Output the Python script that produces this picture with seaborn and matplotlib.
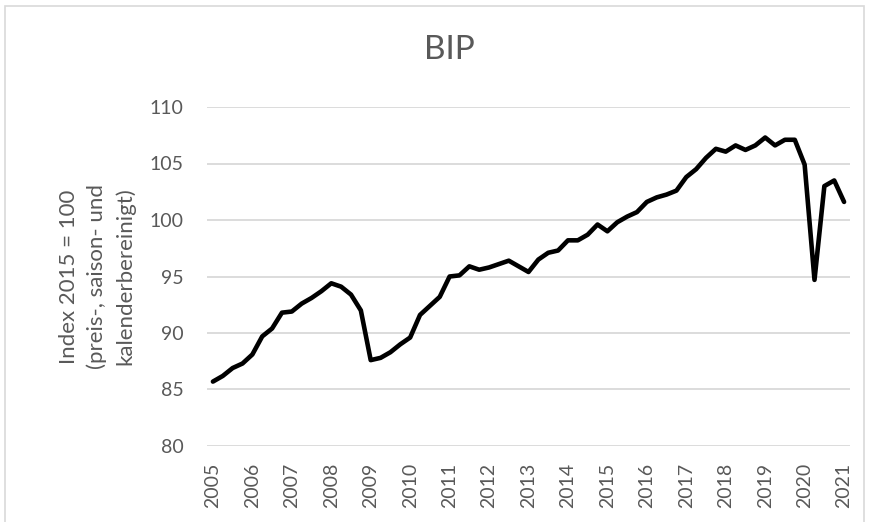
import matplotlib
matplotlib.use("Agg")
import matplotlib.pyplot as plt
import seaborn as sns
import pandas as pd
from matplotlib.patches import Rectangle

# ---- data (quarterly, 2005 Q1 .. 2021 Q1) ----
years = list(range(2005, 2022))
gdp_index = [
    85.7, 86.2, 86.9, 87.3,     # 2005
    88.1, 89.7, 90.4, 91.8,     # 2006
    91.9, 92.6, 93.1, 93.7,     # 2007
    94.4, 94.1, 93.4, 92.0,     # 2008
    87.6, 87.8, 88.3, 89.0,     # 2009
    89.6, 91.6, 92.4, 93.2,     # 2010
    95.0, 95.1, 95.9, 95.6,     # 2011
    95.8, 96.1, 96.4, 95.9,     # 2012
    95.4, 96.5, 97.1, 97.3,     # 2013
    98.2, 98.2, 98.7, 99.6,     # 2014
    99.0, 99.8, 100.3, 100.7,   # 2015
    101.6, 102.0, 102.25, 102.6,  # 2016
    103.8, 104.5, 105.5, 106.3,   # 2017
    106.05, 106.6, 106.2, 106.6,  # 2018
    107.3, 106.6, 107.1, 107.1,   # 2019
    104.9, 94.7, 103.0, 103.5,    # 2020
    101.6,                        # 2021
]
title = "BIP"
ylabel = "Index 2015 = 100\n(preis-, saison- und\nkalenderbereinigt)"
y_ticks = [80, 85, 90, 95, 100, 105, 110]

df = pd.DataFrame({"q": range(len(gdp_index)), "value": gdp_index})

sns.set_theme(style="white")
plt.rcParams["font.family"] = ["Lato", "DejaVu Sans"]

W, H = 869, 522
fig = plt.figure(figsize=(W / 100, H / 100), dpi=100)
ax = fig.add_axes([207 / W, (H - 446) / H, 643 / W, (446 - 107) / H])

grey = "#595959"
for v in y_ticks:
    ax.axhline(v, color="#d9d9d9", lw=1.3, zorder=0)

sns.lineplot(data=df, x="q", y="value", ax=ax, color="black", linewidth=3.3,
             solid_joinstyle="round", solid_capstyle="round", zorder=3)

ax.set_xlim(-0.6, len(gdp_index) - 0.4)
ax.set_ylim(80, 110)
ax.set_yticks(y_ticks)
ax.set_yticklabels([str(v) for v in y_ticks], color=grey, fontsize=14)
ax.set_xticks(range(0, len(gdp_index), 4))
ax.set_xticklabels([str(y) for y in years], rotation=90, color=grey, fontsize=14)
ax.tick_params(axis="y", length=0, pad=17)
ax.tick_params(axis="x", length=0, pad=12)
for s in ax.spines.values():
    s.set_visible(False)

ax.set_xlabel("")
ax.set_ylabel(ylabel, color=grey, fontsize=16, linespacing=1.45,
              va="center", ha="center")
ax.yaxis.set_label_coords((97 - 207) / 643, 0.5)

fig.text(449 / W, 1 - 50 / H, title, ha="center", va="center",
         color=grey, fontsize=24)

fig.patches.append(Rectangle((5 / W, -0.02), (864 - 5) / W, 1.02 - 6 / H,
                             transform=fig.transFigure, fill=False,
                             edgecolor="#d9d9d9", lw=1.2))

fig.savefig("out.png", dpi=100)
